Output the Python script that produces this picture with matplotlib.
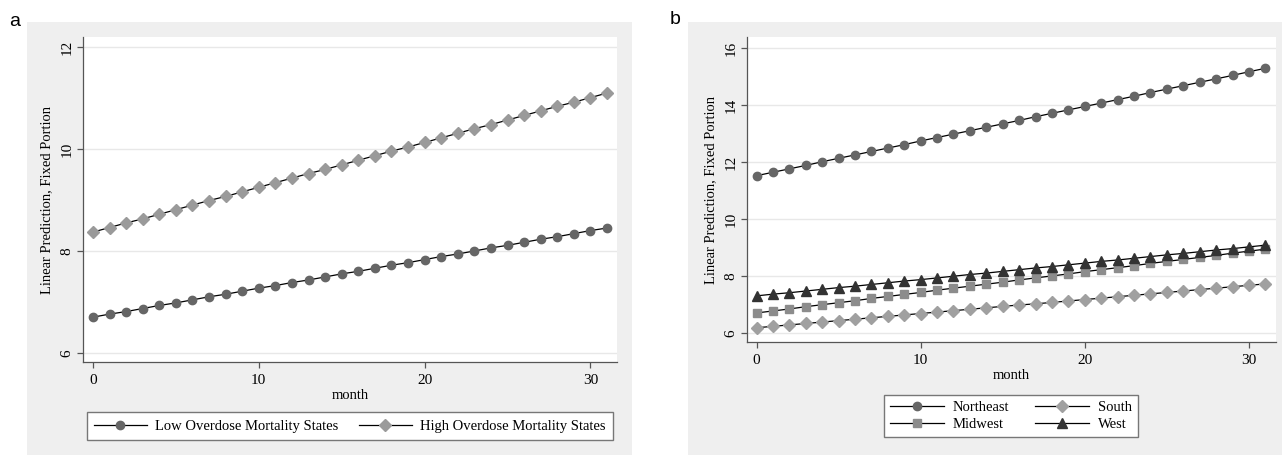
import matplotlib.pyplot as plt
from matplotlib.patches import Rectangle

month = list(range(32))

low = [6.70, 6.76, 6.81, 6.87, 6.93, 6.98, 7.04, 7.10, 7.15, 7.21, 7.27, 7.32, 7.38, 7.43, 7.49, 7.55,
       7.60, 7.66, 7.72, 7.77, 7.83, 7.89, 7.94, 8.00, 8.06, 8.11, 8.17, 8.23, 8.28, 8.34, 8.40, 8.45]
high = [8.37, 8.46, 8.55, 8.63, 8.72, 8.81, 8.90, 8.99, 9.07, 9.16, 9.25, 9.34, 9.43, 9.52, 9.60, 9.69,
        9.78, 9.87, 9.96, 10.04, 10.13, 10.22, 10.31, 10.40, 10.48, 10.57, 10.66, 10.75, 10.84, 10.92, 11.01, 11.10]

northeast = [11.52, 11.64, 11.76, 11.88, 12.01, 12.13, 12.25, 12.37, 12.49, 12.61, 12.74, 12.86, 12.98, 13.10, 13.22, 13.34,
             13.46, 13.59, 13.71, 13.83, 13.95, 14.07, 14.19, 14.31, 14.44, 14.56, 14.68, 14.80, 14.92, 15.04, 15.17, 15.29]
midwest = [6.70, 6.77, 6.84, 6.92, 6.99, 7.06, 7.13, 7.21, 7.28, 7.35, 7.42, 7.50, 7.57, 7.64, 7.71, 7.78,
           7.86, 7.93, 8.00, 8.07, 8.15, 8.22, 8.29, 8.36, 8.44, 8.51, 8.58, 8.65, 8.72, 8.80, 8.87, 8.94]
south = [6.18, 6.23, 6.28, 6.33, 6.38, 6.43, 6.48, 6.53, 6.58, 6.63, 6.68, 6.73, 6.78, 6.83, 6.88, 6.93,
         6.98, 7.02, 7.07, 7.12, 7.17, 7.22, 7.27, 7.32, 7.37, 7.42, 7.47, 7.52, 7.57, 7.62, 7.67, 7.72]
west = [7.30, 7.36, 7.41, 7.47, 7.53, 7.59, 7.64, 7.70, 7.76, 7.82, 7.87, 7.93, 7.99, 8.05, 8.10, 8.16,
        8.22, 8.28, 8.33, 8.39, 8.45, 8.51, 8.56, 8.62, 8.68, 8.74, 8.79, 8.85, 8.91, 8.96, 9.02, 9.08]

ticks_a = [6, 8, 10, 12]
ticks_b = [6, 8, 10, 12, 14, 16]
xticks = [0, 10, 20, 30]

plt.rcParams['font.family'] = ['Liberation Serif', 'DejaVu Serif']

fig = plt.figure(figsize=(12.82, 4.55), dpi=100)
fig.patch.set_facecolor('white')

# gray panel backgrounds (stata style)
fig.patches.append(Rectangle((27/1282, 0), 605/1282, 1 - 22/455, transform=fig.transFigure,
                             facecolor='#efefef', edgecolor='none', zorder=-10))
fig.patches.append(Rectangle((688/1282, 0), 594/1282, 1 - 22/455, transform=fig.transFigure,
                             facecolor='#efefef', edgecolor='none', zorder=-10))

fig.text(15/1282, 1 - 22/455, 'a', family='Liberation Sans', fontsize=14, ha='center', va='center')
fig.text(675/1282, 1 - 20/455, 'b', family='Liberation Sans', fontsize=14, ha='center', va='center')


def style(ax, yticks):
    ax.set_facecolor('white')
    for s in ['top', 'right']:
        ax.spines[s].set_visible(False)
    for s in ['left', 'bottom']:
        ax.spines[s].set_color('#555555')
        ax.spines[s].set_linewidth(0.9)
    ax.set_yticks(yticks)
    ax.set_xticks(xticks)
    ax.grid(axis='y', color='#e8e8e8', linewidth=1.0)
    ax.set_axisbelow(True)
    ax.tick_params(axis='both', direction='out', length=4, width=0.9, color='#555555',
                   labelsize=11)
    ax.tick_params(axis='x', pad=5)
    ax.tick_params(axis='y', pad=3)
    for lab in ax.get_yticklabels():
        lab.set_rotation(90)
        lab.set_va('center')
    ax.set_ylabel('Linear Prediction, Fixed Portion', fontsize=10.5, labelpad=5)
    ax.set_xlabel('month', fontsize=10.5, labelpad=1)


lw = 0.9

# a)
ax1 = fig.add_axes([83/1282, 1 - 362/455, 534/1282, 325/455])
ax1.plot(month, low, '-', color='black', lw=lw, marker='o', ms=6, mfc='#666666', mec='#666666',
         label='Low Overdose Mortality States')
ax1.plot(month, high, '-', color='black', lw=lw, marker='D', ms=6, mfc='#9a9a9a', mec='#9a9a9a',
         label='High Overdose Mortality States')
ax1.set_xlim(-0.6, 31.6)
ax1.set_ylim(5.82, 12.2)
style(ax1, ticks_a)
ax1.legend(loc='center', bbox_to_anchor=(350/1282, 1 - 426/455),
           bbox_transform=fig.transFigure, ncol=2, fontsize=10.5, handlelength=3.6,
           numpoints=1, fancybox=False, edgecolor='#777777', framealpha=1, borderpad=0.5,
           handletextpad=0.6, columnspacing=1.4, borderaxespad=0)

# b)
ax2 = fig.add_axes([747/1282, 1 - 342/455, 529/1282, 305/455])
ax2.plot(month, northeast, '-', color='black', lw=lw, marker='o', ms=6, mfc='#666666', mec='#666666',
         label='Northeast')
ax2.plot(month, midwest, '-', color='black', lw=lw, marker='s', ms=5.5, mfc='#8c8c8c', mec='#8c8c8c',
         label='Midwest')
ax2.plot(month, south, '-', color='black', lw=lw, marker='D', ms=6, mfc='#a0a0a0', mec='#a0a0a0',
         label='South')
ax2.plot(month, west, '-', color='black', lw=lw, marker='^', ms=6.5, mfc='#333333', mec='#333333',
         label='West')
ax2.set_xlim(-0.58, 31.65)
ax2.set_ylim(5.68, 16.39)
style(ax2, ticks_b)
ax2.legend(loc='center', bbox_to_anchor=(1011/1282, 1 - 416/455),
           bbox_transform=fig.transFigure, ncol=2, fontsize=10.5, handlelength=3.7,
           numpoints=1, fancybox=False, edgecolor='#777777', framealpha=1, borderpad=0.4,
           handletextpad=0.6, columnspacing=1.8, labelspacing=0.3, borderaxespad=0)

plt.savefig('out.png', dpi=100)
